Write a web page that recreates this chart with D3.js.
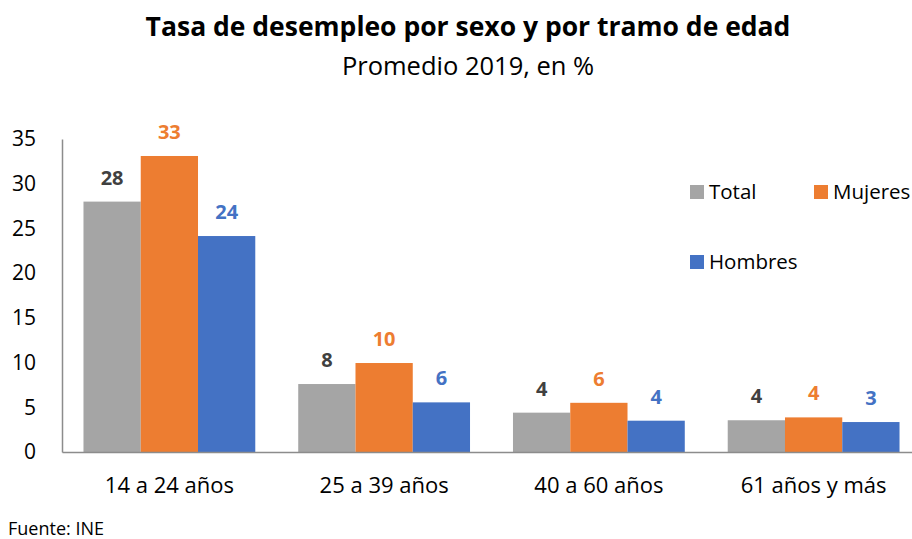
<!DOCTYPE html>
<html><head><meta charset="utf-8">
<script src="https://cdn.jsdelivr.net/npm/d3@7"></script>
<style>body{margin:0;background:#fff;overflow:hidden}svg{display:block;font-family:"Open Sans",sans-serif}</style>
</head><body>
<svg id="c" width="912" height="539"></svg>
<script>
const categories = ["14 a 24 años","25 a 39 años","40 a 60 años","61 años y más"];
const seriesNames = ["Total","Mujeres","Hombres"];
const totalValues = [28.0, 7.6, 4.4, 3.55];
const mujeresValues = [33.1, 9.95, 5.5, 3.87];
const hombresValues = [24.15, 5.55, 3.5, 3.35];
const yTicks = [0,5,10,15,20,25,30,35];
const colors = ["#A5A5A5","#ED7D31","#4472C4"];
const labelColors = ["#404040","#ED7D31","#4472C4"];
const FONT = "'Open Sans',sans-serif";

const series = [totalValues, mujeresValues, hombresValues];
const svg = d3.select("#c");

const x0 = d3.scaleBand().domain(categories).range([62, 921]).paddingInner(0.2).paddingOuter(0.1);
const x1 = d3.scaleBand().domain(seriesNames).range([0, x0.bandwidth()]);
const y = d3.scaleLinear().domain([0,35]).range([452,139]);

// title
svg.append("text").attr("x",468).attr("y",36).attr("text-anchor","middle")
  .attr("font-weight","bold").attr("font-size",26.5).attr("fill","#000")
  .text("Tasa de desempleo por sexo y por tramo de edad");
svg.append("text").attr("x",468).attr("y",75).attr("text-anchor","middle")
  .attr("font-size",25.5).attr("fill","#000").text("Promedio 2019, en %");

// bars
const g = svg.append("g");
categories.forEach((cat,i)=>{
  seriesNames.forEach((s,j)=>{
    const v = series[j][i];
    g.append("rect").attr("x",x0(cat)+x1(s)).attr("y",y(v))
      .attr("width",x1.bandwidth()).attr("height",y(0)-y(v)).attr("fill",colors[j]);
    g.append("text").attr("x",x0(cat)+x1(s)+x1.bandwidth()/2).attr("y",y(v)-17)
      .attr("text-anchor","middle").attr("font-weight","bold").attr("font-size",20)
      .attr("fill",labelColors[j]).text(Math.round(v));
  });
});

// y axis
const yAxis = d3.axisLeft(y).tickValues(yTicks).tickSize(0).tickPadding(0);
const ya = svg.append("g").attr("transform","translate(62,0)").call(yAxis);
ya.select(".domain").attr("stroke","#8c8c8c").attr("stroke-width",1.5);
ya.selectAll("text").attr("x",-26).attr("text-anchor","end").attr("font-size",21).attr("fill","#000")
  .attr("font-family",FONT);

// x axis
const xAxis = d3.axisBottom(x0).tickSize(0).tickPadding(0);
const xa = svg.append("g").attr("transform","translate(0,452)").call(xAxis);
xa.select(".domain").attr("stroke","#8c8c8c").attr("stroke-width",1.5);
xa.selectAll("text").attr("dy",0).attr("y",41).attr("font-size",22).attr("fill","#000")
  .attr("font-family",FONT);

// legend
const legendPos = [[690,185],[814,185],[690,255]];
seriesNames.forEach((s,j)=>{
  const [lx,ly] = legendPos[j];
  svg.append("rect").attr("x",lx).attr("y",ly).attr("width",14).attr("height",14).attr("fill",colors[j]);
  svg.append("text").attr("x",lx+19).attr("y",ly+14).attr("font-size",20.5).attr("fill","#000").text(s);
});

// source
svg.append("text").attr("x",8).attr("y",535).attr("font-size",18).attr("fill","#000").text("Fuente: INE");
</script>
</body></html>
